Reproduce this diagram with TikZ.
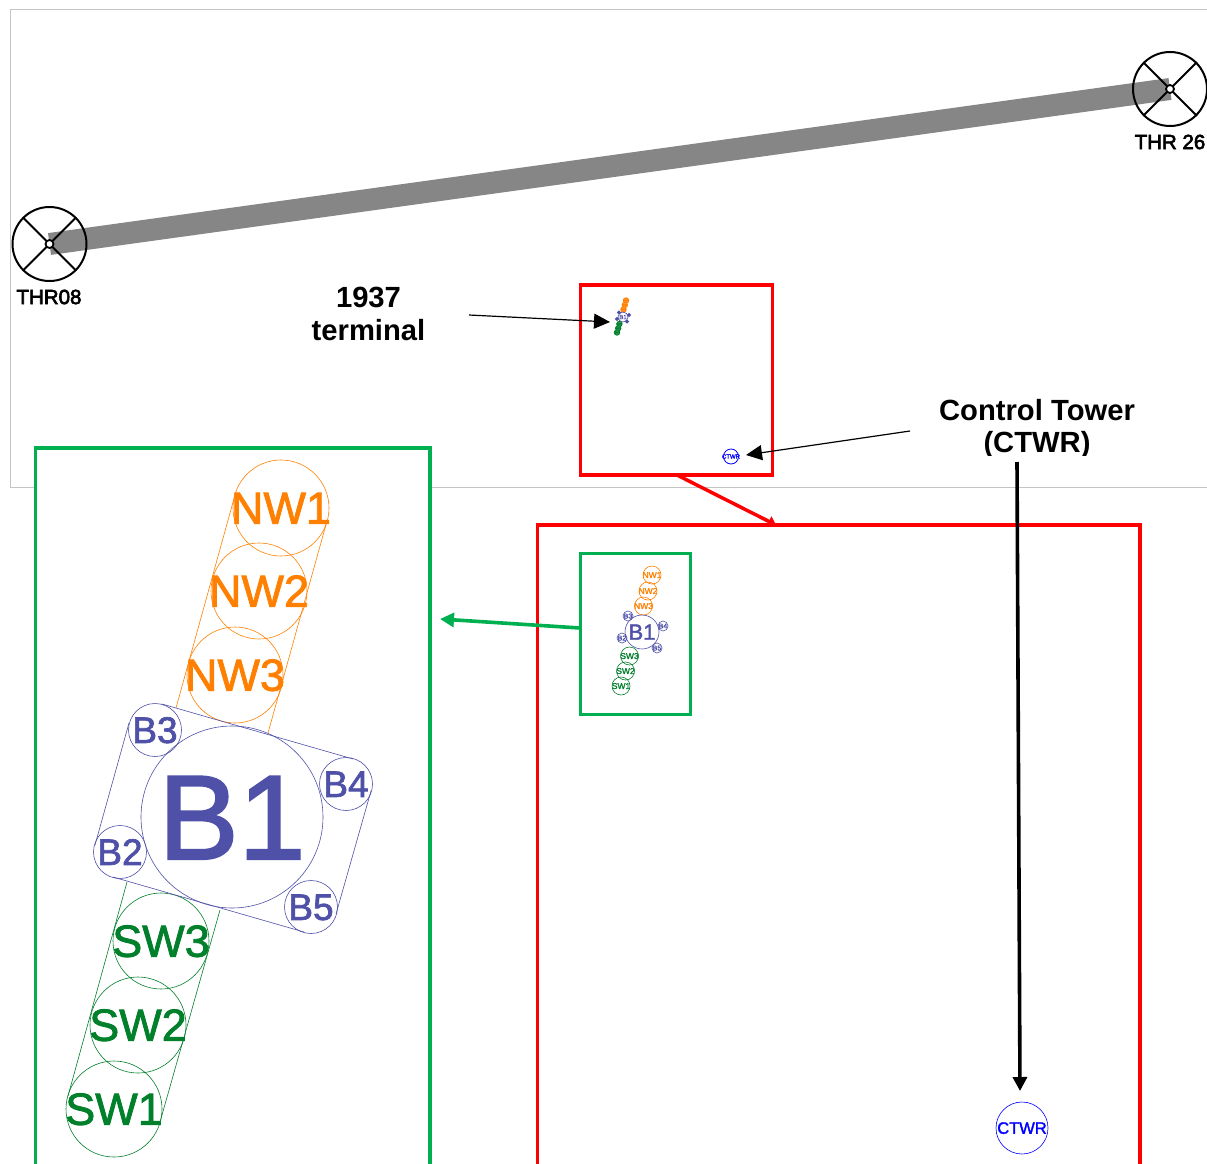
\documentclass[tikz,border=0pt]{standalone}
\usepackage{fontspec}
\setmainfont{Liberation Sans}
\newfontfamily\heavyish[FakeBold=1.8]{Liberation Sans}
\newfontfamily\heavier[FakeBold=3]{Liberation Sans}
\usetikzlibrary{arrows.meta}
\definecolor{nworange}{HTML}{FF8000}
\definecolor{bpurple}{HTML}{4F50A8}
\definecolor{swgreen}{HTML}{00802B}
\definecolor{boxgreen}{HTML}{00B050}
\definecolor{rwgray}{HTML}{868686}
\definecolor{framegray}{HTML}{C4C4C4}
\newcommand{\ctxt}[1]{\raisebox{-0.35em}{\makebox[0pt]{#1}}}
\tikzset{
  fs/.style={font=\heavyish\fontsize{#1}{#1}\selectfont},
  bub/.style={circle,draw=#1,text=#1,inner sep=0pt,line width=0.6pt,text height=0pt,text depth=0pt},
  nwB/.style={bub=nworange,minimum size=96pt,fs=45},
  swB/.style={bub=swgreen,minimum size=96pt,fs=45},
  bsB/.style={bub=bpurple,minimum size=53pt,fs=37},
  nwS/.style={bub=nworange,minimum size=18pt,fs=8.5},
  swS/.style={bub=swgreen,minimum size=18pt,fs=8.5},
  bsS/.style={bub=bpurple,minimum size=10pt,fs=7},
  nwT/.style={bub=nworange,minimum size=5.5pt,fs=2.5,fill=nworange!80,line width=0.8pt},
  swT/.style={bub=swgreen,minimum size=5.5pt,fs=2.5,fill=swgreen!80,line width=0.8pt},
  bsT/.style={bub=bpurple,minimum size=3pt,fs=2,fill=bpurple,line width=0.8pt},
  hull/.style={line width=0.6pt},
  thrring/.style={circle,draw=black,line width=2pt,minimum size=74pt,inner sep=0pt},
  thrhub/.style={circle,draw=black,fill=white,line width=1.8pt,minimum size=8pt,inner sep=0pt},
  thrspoke/.style={draw=black,line width=1.8pt},
  thrlabel/.style={font=\heavier\fontsize{20.5}{20.5}\selectfont,inner sep=0pt},
  note/.style={font=\fontsize{29.2}{33}\selectfont\bfseries,align=center,inner sep=0pt},
  thinarrow/.style={draw=black,line width=1.2pt,-{Triangle[length=16pt,width=15pt]}},
  fatarrow/.style={line width=3.6pt,-{Triangle[length=14pt,width=14pt]}},
  redbox/.style={draw=red,line width=3.5pt,fill=white,inner sep=0pt},
  greenbox/.style={draw=boxgreen,line width=3.8pt,fill=white,inner sep=0pt},
}
\begin{document}
\begin{tikzpicture}[x=1pt,y=-1pt]
\useasboundingbox (0,0) rectangle (1207,1164);
\clip (0,0) rectangle (1207,1164);
% frame
\draw[framegray,line width=0.8pt] (1207,9) -- (10,9) -- (10,487) -- (1207,487);
% runway
\coordinate (rwA) at (49.5,244);
\coordinate (rwB) at (1170,89);
\draw[rwgray,line width=22pt] (rwA) -- (rwB);
% thresholds
\foreach \n/\cx/\cy in {tA/49.5/244,tB/1170/89}{
  \node[thrring] (\n) at (\cx,\cy) {};
  \draw[thrspoke] (\n.north west) -- (\n.south east) (\n.north east) -- (\n.south west);
  \node[thrhub] (\n h) at (\cx,\cy) {};
}
\node[thrlabel] (lblA) at (49,297) {THR08};
\node[thrlabel] (lblB) at (1170,142) {THR 26};
% small red box and big boxes
\node[redbox,minimum width=192pt,minimum height=190pt] (redS) at (676.5,380) {};
\draw[redbox,fill=none] (537.5,1180) -- (537.5,525) -- (1140,525) -- (1140,1180);
\coordinate (redLin) at (776,525);
\filldraw[greenbox] (35.5,1180) -- (35.5,448) -- (430,448) -- (430,1180);
\node[greenbox,minimum width=110pt,minimum height=161pt] (greenS) at (635.5,634) {};
% tiny plan
\node[nwT] (n1t) at (626,300.5) {\ctxt{NW1}};
\node[nwT] (n2t) at (624.8,305) {\ctxt{NW2}};
\node[nwT] (n3t) at (623.5,309.5) {\ctxt{NW3}};
\node[bub=bpurple,minimum size=10pt,fs=6] (b1t) at (623,317) {\ctxt{B1}};
\node[bsT] (b3t) at (619,312.5) {\ctxt{B3}};
\node[bsT] (b4t) at (629,315) {\ctxt{B4}};
\node[bsT] (b2t) at (617,319) {\ctxt{B2}};
\node[bsT] (b5t) at (627,321.5) {\ctxt{B5}};
\node[swT] (s3t) at (619.4,324) {\ctxt{SW3}};
\node[swT] (s2t) at (618.2,328.3) {\ctxt{SW2}};
\node[swT] (s1t) at (617,332.5) {\ctxt{SW1}};
% small control tower
\node[bub=blue,minimum size=15pt,fs=6,line width=0.8pt] (ctS) at (731,456.5) {\ctxt{CTWR}};
% labels
\node[note] (l1937) at (368.5,314) {1937\\terminal};
\node[note] (lctrl) at (1037,410) {Control Tower};
\begin{scope}
  \clip (900,425) rectangle (1150,455.5);
  \node[note] (lctwr) at (1037,445) {(CTWR)};
\end{scope}
% big plan
\draw[nworange,hull] (235,495) -- (176,708) (327,521) -- (268,733);
\node[nwB] (n1) at (281,508) {\ctxt{NW1}};
\node[nwB] (n2) at (259,591) {\ctxt{NW2}};
\node[nwB] (n3) at (235,675) {\ctxt{NW3}};
\draw[swgreen,hull] (68,1096) -- (127,882) (160,1122) -- (220,910);
\node[swB] (s3) at (161,941) {\ctxt{SW3}};
\node[swB] (s2) at (138,1025) {\ctxt{SW2}};
\node[swB] (s1) at (114,1109) {\ctxt{SW1}};
\draw[bpurple,hull] (162,704) -- (353,759) (371,791) -- (336,914) (304,932) -- (113,877) (95,845) -- (129,723);
\node[bub=bpurple,minimum size=182pt,fs=120] (b1) at (232,817) {\ctxt{B1}};
\node[bsB] (b3) at (155,730) {\ctxt{B3}};
\node[bsB] (b4) at (346,784) {\ctxt{B4}};
\node[bsB] (b2) at (120,852) {\ctxt{B2}};
\node[bsB] (b5) at (311,907) {\ctxt{B5}};
% small plan
\node[nwS] (n1s) at (652,575) {\ctxt{NW1}};
\node[nwS] (n2s) at (648,591) {\ctxt{NW2}};
\node[nwS] (n3s) at (643.5,606) {\ctxt{NW3}};
\node[bub=bpurple,minimum size=34pt,fs=22] (b1s) at (642,632) {\ctxt{B1}};
\node[bsS] (b3s) at (628,616) {\ctxt{B3}};
\node[bsS] (b4s) at (663,626) {\ctxt{B4}};
\node[bsS] (b2s) at (622,638) {\ctxt{B2}};
\node[bsS] (b5s) at (657,648) {\ctxt{B5}};
\node[swS] (s3s) at (629.5,656) {\ctxt{SW3}};
\node[swS] (s2s) at (625.5,671) {\ctxt{SW2}};
\node[swS] (s1s) at (621,686) {\ctxt{SW1}};
% big control tower
\node[bub=blue,minimum size=52pt,fs=16.5] (ctB) at (1022,1128) {\ctxt{CTWR}};
% arrows
\coordinate (a1) at (469,315);
\coordinate (a1e) at (610,322);
\draw[thinarrow] (a1) -- (a1e);
\coordinate (a2) at (910,431);
\coordinate (a2e) at (746,455);
\draw[thinarrow] (a2) -- (a2e);
\coordinate (a3) at (1017,462);
\coordinate (a3e) at (1020,1091);
\draw[fatarrow,draw=black,fill=black] (a3) -- (a3e);
\coordinate (a4) at (677,475);
\draw[red,line width=3.5pt,-{Triangle[length=8pt,width=11pt]}] (a4) -- (redLin);
\coordinate (a5) at (580,628);
\coordinate (a5e) at (440,619);
\draw[fatarrow,draw=boxgreen,fill=boxgreen] (a5) -- (a5e);
\end{tikzpicture}
\end{document}
